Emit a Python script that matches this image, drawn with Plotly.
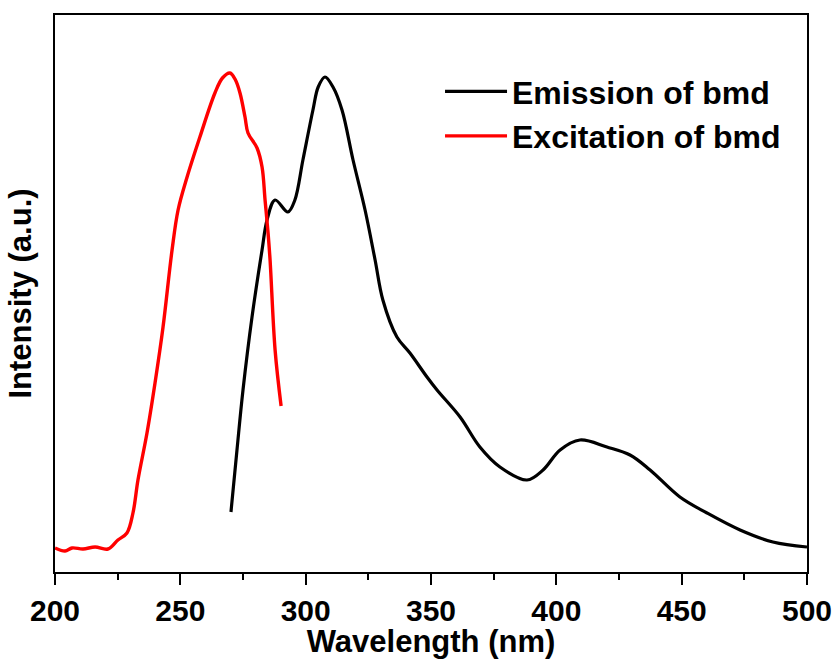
import plotly.graph_objects as go

# Excitation spectrum of bmd (red)
exc_wl = [200.0, 204.0, 206.8, 211.2, 216.0, 221.1, 225.1, 228.7, 231.1, 233.1, 236.7,
          239.9, 243.1, 246.7, 249.1, 252.7, 257.8, 263.8, 266.8, 269.8, 272.0, 273.8,
          275.8, 277.0, 280.6, 282.6, 283.8, 285.0, 285.8, 287.8, 290.2]
exc_int = [24, 21, 24, 23, 25, 23, 32, 39, 59, 92, 139,
           189, 245, 322, 362, 395, 435, 479, 494, 499, 492, 479,
           455, 439, 424, 405, 372, 339, 312, 222, 166]

# Emission spectrum of bmd (black)
em_wl = [270.2, 272.6, 275.0, 278.6, 282.6, 284.6, 287.8, 292.9, 295.7, 298.9, 302.9,
         305.0, 307.7, 310.9, 314.5, 318.9, 323.7, 327.7, 330.8, 336.4, 341.6, 348.4,
         352.4, 361.6, 369.5, 377.5, 388.3, 394.7, 401.5, 409.4, 420.2, 429.4, 437.4,
         449.3, 460.1, 473.3, 486.4, 500.0]
em_int = [60, 122, 182, 255, 322, 352, 372, 360, 372, 412, 462,
          485, 495, 485, 462, 412, 362, 312, 272, 235, 219, 195,
          182, 155, 125, 105, 92, 102, 122, 132, 125, 117, 102,
          75, 59, 42, 30, 25]

x_ticks = [200, 250, 300, 350, 400, 450, 500]

FONT = "Liberation Sans, Arial, sans-serif"

fig = go.Figure()
fig.add_trace(go.Scatter(x=em_wl, y=em_int, mode="lines", name="<b>Emission of bmd</b>",
                         line=dict(color="black", width=3.2, shape="spline", smoothing=1.0)))
fig.add_trace(go.Scatter(x=exc_wl, y=exc_int, mode="lines", name="<b>Excitation of bmd</b>",
                         line=dict(color="#ff0000", width=3.4, shape="spline", smoothing=1.0)))

fig.update_layout(
    width=837, height=659,
    margin=dict(l=55, r=30, t=15, b=87),
    paper_bgcolor="white", plot_bgcolor="white",
    font=dict(family=FONT, color="black"),
    legend=dict(x=0.512, y=0.912, xanchor="left", yanchor="top",
                bgcolor="rgba(0,0,0,0)", font=dict(size=32, family=FONT),
                itemwidth=62, tracegroupgap=0),
    showlegend=True,
)
fig.update_xaxes(
    range=[200, 500], tickvals=x_ticks, ticktext=[f"<b>{v}</b>" for v in x_ticks],
    ticks="outside", ticklen=11, tickwidth=2, tickcolor="black",
    minor=dict(dtick=25, ticks="outside", ticklen=6, tickwidth=2, tickcolor="black"),
    showline=True, linewidth=2, linecolor="black", mirror=True,
    showgrid=False, zeroline=False,
    tickfont=dict(size=30, family=FONT),
    title=dict(text="<b>Wavelength (nm)</b>", font=dict(size=31, family=FONT), standoff=1),
    automargin=False,
)
fig.update_yaxes(
    range=[0, 557], showticklabels=False, ticks="",
    showline=True, linewidth=2, linecolor="black", mirror=True,
    showgrid=False, zeroline=False,
    title=dict(text="<b>Intensity (a.u.)</b>", font=dict(size=31, family=FONT), standoff=12),
    automargin=False,
)

fig.write_html("out.html")
